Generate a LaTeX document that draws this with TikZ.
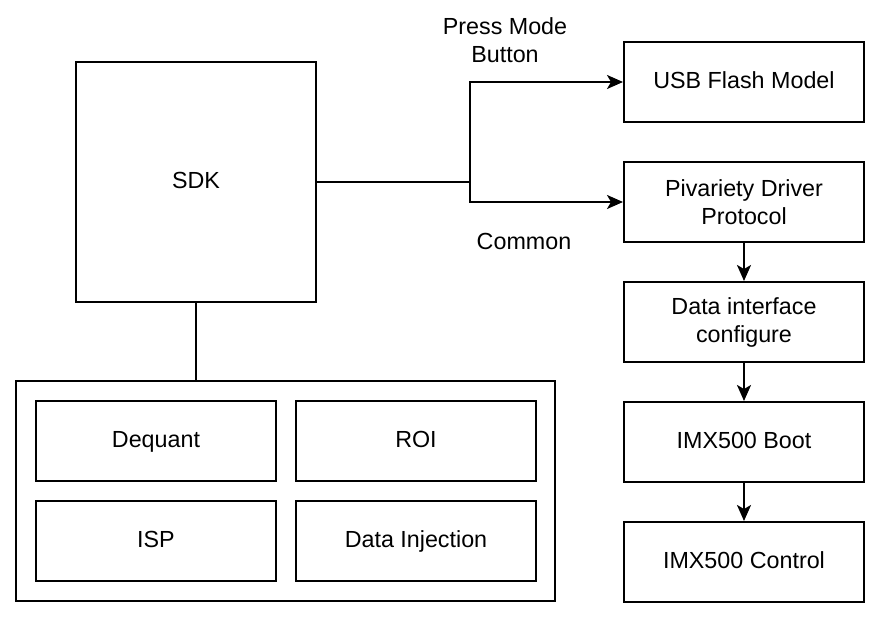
\documentclass[tikz,border=0pt]{standalone}
\usepackage{fontspec}
\setmainfont{Liberation Sans}
\usetikzlibrary{arrows.meta,calc}
\begin{document}
\begin{tikzpicture}[x=1pt,y=-1pt,
  every node/.style={font=\fontsize{23.3}{28}\selectfont},
  box/.style={draw,line width=2pt,minimum width=240pt,minimum height=80pt,inner sep=0pt,align=center},
  one/.style={text height=18pt,text depth=4.4pt},
  conn/.style={line width=2pt},
  arr/.style={line width=2pt,-{Stealth[length=16pt,width=14pt,inset=4pt]}},
  lbl/.style={align=center,inner sep=0pt}]
\useasboundingbox (0,0) rectangle (880,620);
\node[box,one,minimum height=240pt] (sdk) at (196,182) {SDK};
\node[draw,line width=2pt,minimum width=539pt,minimum height=220pt,inner sep=0pt] (cont) at (285.5,491) {};
\node[box,one] (deq) at (156,441) {Dequant};
\node[box,one] (roi) at (416,441) {ROI};
\node[box,one] (isp) at (156,541) {ISP};
\node[box,one] (inj) at (416,541) {Data Injection};
\node[box,one] (usb) at (744,82) {USB Flash Model};
\node[box] (piv) at (744,202) {Pivariety Driver\\Protocol};
\node[box] (dic) at (744,322) {Data interface\\configure};
\node[box,one] (boot) at (744,442) {IMX500 Boot};
\node[box,one] (ctrl) at (744,562) {IMX500 Control};
\coordinate (j) at (470,182);
\draw[conn] (sdk.south) -- (sdk.south |- cont.north);
\draw[conn] (sdk.east) -- (j);
\draw[arr] (j) |- (usb.west);
\draw[arr] (j) |- (piv.west);
\draw[arr] (piv) -- (dic);
\draw[arr] (dic) -- (boot);
\draw[arr] (boot) -- (ctrl);
\node[lbl] (pmb) at (505,40) {Press Mode\\Button};
\node[lbl] (com) at (524,241) {Common};
\end{tikzpicture}
\end{document}
